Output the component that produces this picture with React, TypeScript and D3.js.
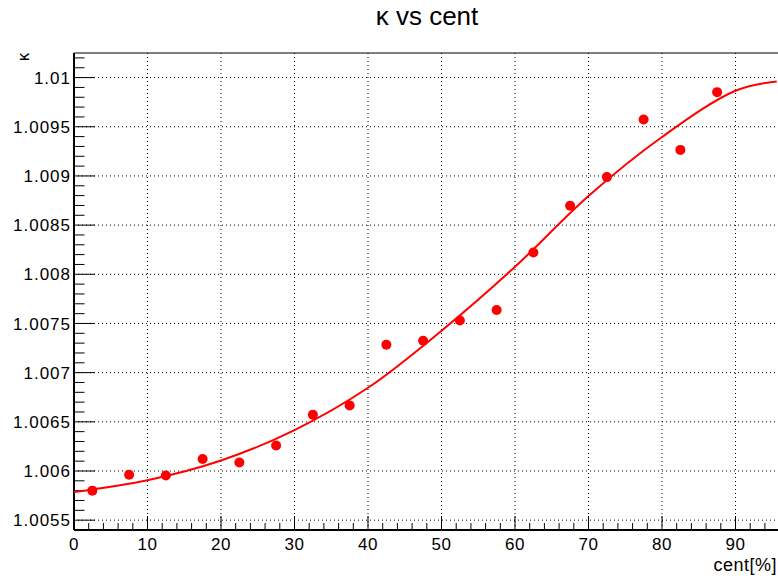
import React from "react";
import * as d3 from "d3";

const centX = [2.5, 7.5, 12.5, 17.5, 22.5, 27.5, 32.5, 37.5, 42.5, 47.5, 52.5, 57.5, 62.5, 67.5, 72.5, 77.5, 82.5, 87.5];
const kappaY = [1.0058, 1.005962, 1.005955, 1.006122, 1.006087, 1.00626, 1.006572, 1.006667, 1.007283, 1.007324, 1.00753, 1.007636, 1.008222, 1.008696, 1.008988, 1.009573, 1.009265, 1.009852];

const fitX = [0, 10, 20, 30, 40, 50, 60, 70, 80, 90, 95.6];
const fitY = [1.005786, 1.005906, 1.006106, 1.006416, 1.006846, 1.007426, 1.008076, 1.008796, 1.009396, 1.009866, 1.009961];

const xTicks = [0, 10, 20, 30, 40, 50, 60, 70, 80, 90];
const yTicks = [1.0055, 1.006, 1.0065, 1.007, 1.0075, 1.008, 1.0085, 1.009, 1.0095, 1.01];
const yTickLabels = ["1.0055", "1.006", "1.0065", "1.007", "1.0075", "1.008", "1.0085", "1.009", "1.0095", "1.01"];

const W = 778;
const H = 578;
const left = 74;
const top = 53;
const bottom = 530;
const xMax = 96;
const yMin = 1.0054;
const yMax = 1.01025;

export default function App() {
  const x = d3.scaleLinear().domain([0, xMax]).range([left, left + 7.35 * xMax]);
  const y = d3.scaleLinear().domain([yMin, yMax]).range([bottom, top]);
  const right = x(xMax);

  const line = d3
    .line<number>()
    .x((_, i) => x(fitX[i]))
    .y((d) => y(d))
    .curve(d3.curveCatmullRom.alpha(0.5));

  const xMinor = d3.range(0, xMax + 0.001, 2);
  const yMinor = d3.range(0, 49).map((i) => yMin + i * 0.0001).filter((v) => v <= yMax + 1e-9);

  const font = "'Liberation Sans', Arial, Helvetica, sans-serif";

  return (
    <svg
      width={W}
      height={H}
      style={{ position: "absolute", left: 0, top: 0, background: "#fff" }}
      fontFamily={font}
    >
      <rect x={0} y={0} width={W} height={H} fill="#fff" />
      {/* grid */}
      {xTicks.filter((t) => t > 0).map((t) => (
        <line key={"gx" + t} x1={x(t)} x2={x(t)} y1={bottom} y2={top} stroke="#000" strokeWidth={1} strokeDasharray="1 3" />
      ))}
      {yTicks.map((t) => (
        <line key={"gy" + t} x1={left} x2={right} y1={y(t)} y2={y(t)} stroke="#000" strokeWidth={1} strokeDasharray="1 3" />
      ))}
      {/* frame top */}
      <line x1={left} x2={right} y1={top} y2={top} stroke="#000" strokeWidth={1} />
      {/* x axis */}
      <line x1={left} x2={right} y1={bottom} y2={bottom} stroke="#000" strokeWidth={2} />
      {xMinor.map((t) => (
        <line key={"xm" + t} x1={x(t)} x2={x(t)} y1={bottom} y2={bottom - (t % 10 === 0 ? 14 : 7)} stroke="#000" strokeWidth={1} />
      ))}
      {xTicks.map((t) => (
        <text key={"xl" + t} x={x(t)} y={550} textAnchor="middle" fontSize={17} letterSpacing={0.5} fill="#000">
          {t}
        </text>
      ))}
      <text x={777} y={571} textAnchor="end" fontSize={18} letterSpacing={0.5} fill="#000">
        cent[%]
      </text>
      {/* y axis */}
      <line x1={left} x2={left} y1={bottom} y2={top} stroke="#000" strokeWidth={2} />
      {yMinor.map((t, i) => (
        <line key={"ym" + i} x1={left} x2={left + (i % 5 === 1 ? 21 : 10.5)} y1={y(t)} y2={y(t)} stroke="#000" strokeWidth={1} />
      ))}
      {yTicks.map((t, i) => (
        <text key={"yl" + t} x={71} y={y(t)} dy="0.36em" textAnchor="end" fontSize={17} letterSpacing={1} fill="#000">
          {yTickLabels[i]}
        </text>
      ))}
      <text transform={`translate(29,57) rotate(-90)`} textAnchor="middle" fontSize={17} fill="#000">
        κ
      </text>
      {/* title */}
      <text x={427} y={25} textAnchor="middle" fontSize={26} fill="#000">
        κ vs cent
      </text>
      {/* fit curve */}
      <path d={line(fitY) ?? ""} fill="none" stroke="#ff0000" strokeWidth={2} />
      {/* points */}
      {centX.map((c, i) => (
        <circle key={"p" + i} cx={x(c)} cy={y(kappaY[i])} r={5} fill="#ff0000" />
      ))}
    </svg>
  );
}
